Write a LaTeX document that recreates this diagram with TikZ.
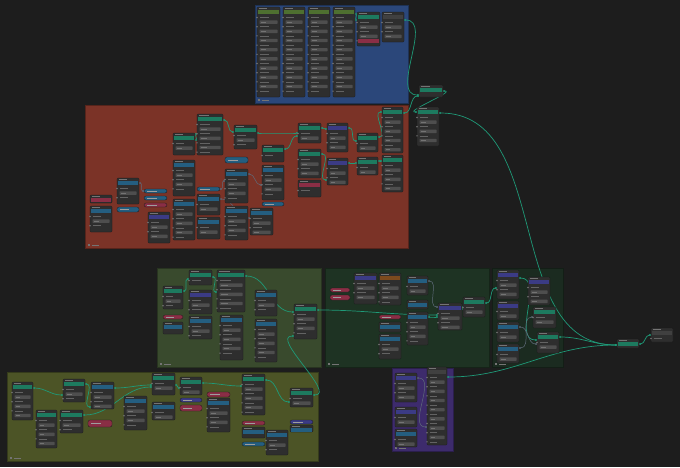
\documentclass[tikz,border=0pt]{standalone}
\usepackage{tikz}
\usetikzlibrary{arrows.meta}

\definecolor{bgcol}{HTML}{1D1D1D}
\definecolor{nodecol}{HTML}{2E2E2E}
\definecolor{fieldcol}{HTML}{4E4E4E}
\definecolor{stubcol}{HTML}{747474}
\definecolor{hteal}{HTML}{1D7A5F}
\definecolor{hblue}{HTML}{245E80}
\definecolor{hpurple}{HTML}{3B3B85}
\definecolor{hred}{HTML}{8A2E45}
\definecolor{horange}{HTML}{7C4A1E}
\definecolor{hlime}{HTML}{4E7030}
\definecolor{hgray}{HTML}{404040}
\definecolor{linkteal}{HTML}{1F9A78}
\definecolor{linkgray}{HTML}{5F6B7A}
\definecolor{fblue}{HTML}{2B477A}
\definecolor{fred}{HTML}{7B3327}
\definecolor{fgreen}{HTML}{394A2D}
\definecolor{fdkgreen}{HTML}{1E3323}
\definecolor{fdkgreenb}{HTML}{1B2B20}
\definecolor{folive}{HTML}{4C5426}
\definecolor{fpurple}{HTML}{3D2B6C}

\pgfdeclarelayer{back}
\pgfdeclarelayer{wires}
\pgfsetlayers{back,wires,main}

\tikzset{
  nbox/.style={draw=black!90, fill=nodecol, rounded corners=1pt, anchor=north west,
    inner sep=0pt, outer sep=0pt, line width=0.3pt},
  pbox/.style={draw=black!90, rounded corners=2pt, anchor=north west,
    inner sep=0pt, outer sep=0pt, line width=0.3pt},
  link/.style={draw=linkteal, line width=0.7pt, {Circle[length=2pt]}-{Circle[length=2pt]}},
  wire/.style={draw=linkgray, line width=0.5pt, {Circle[length=1.8pt]}-{Circle[length=1.8pt]}}
}

% node with title, header bar and field rows
\newcommand{\nd}[6]{%
  \node[nbox, minimum width={(#4-#2)*1pt}, minimum height={(#5-#3)*1pt}] (#1) at (#2,#3) {};
  \fill[stubcol] (#2+2,#3+1.1) rectangle ({#2+0.45*(#4-#2)},#3+1.9);
  \fill[#6] (#2+0.6,#3+3) rectangle (#4-0.6,#3+6.6);
  \foreach \k in {0,...,30}{%
    \pgfmathsetmacro\yy{#3+10.5+4.6*\k}%
    \pgfmathtruncatemacro\rowok{(\yy+2.6<#5)?1:0}%
    \ifnum\rowok=1
      \ifodd\k
        \fill[fieldcol, rounded corners=0.5pt] (#2+2.5,\yy-1.7) rectangle (#4-2.5,\yy+1.7);
        \fill[stubcol] (#2+4,\yy-0.3) rectangle ({#2+0.4*(#4-#2)},\yy+0.3);
      \else
        \fill[stubcol] (#2,\yy) circle (0.8pt);
        \fill[stubcol!85!black] (#2+2.5,\yy-0.35) rectangle ({#2+0.5*(#4-#2)},\yy+0.35);
      \fi
    \fi
  }%
}
% collapsed node
\newcommand{\pl}[6]{%
  \node[pbox, fill=#6, minimum width={(#4-#2)*1pt}, minimum height={(#5-#3)*1pt}] (#1) at (#2,#3) {};
  \fill[stubcol!70!white] (#2+3,{(#3+#5)/2-0.35}) rectangle ({#2+0.55*(#4-#2)},{(#3+#5)/2+0.35});
}
% frame
\newcommand{\fr}[5]{%
  \filldraw[fill=#5, draw=#5!70!black, line width=0.3pt] (#1,#2) rectangle (#3,#4);
  \fill[stubcol] (#1+3,#4-4) rectangle (#1+5,#4-2);
  \fill[stubcol] (#1+6.5,#4-3.4) rectangle (#1+14,#4-2.6);
}
\newcommand{\lk}[5]{\draw[#1] ([yshift=-#3pt]#2.north east) to[out=0,in=180] ([yshift=-#5pt]#4.north west);}

\begin{document}
\begin{tikzpicture}[x=1pt, y=-1pt]
\begin{pgfonlayer}{back}
  \fill[bgcol] (0,0) rectangle (680,467);
  \useasboundingbox (0,0) rectangle (680,467);
  \fr{255}{5}{408}{103}{fblue}
  \fr{85}{105}{408}{248}{fred}
  \fr{157}{268}{321}{367}{fgreen}
  \fr{325}{268}{489}{367}{fdkgreen}
  \fr{492}{268}{563}{367}{fdkgreenb}
  \fr{7}{372}{318}{461}{folive}
  \fr{392}{368}{453}{451}{fpurple}
\end{pgfonlayer}

\nd{bl1}{257}{7}{280}{97}{hlime}
\nd{bl2}{283}{7}{305}{97}{hlime}
\nd{bl3}{308}{7}{330}{97}{hlime}
\nd{bl4}{333}{7}{355}{97}{hlime}
\nd{bl5}{357}{12}{380}{46}{hteal}
\fill[hred] (357.6,39) rectangle (379.4,42.5);
\nd{bl6}{382}{12}{404}{42}{hgray}

\nd{rs1}{419}{85}{443}{97}{hteal}
\nd{rs2}{417}{107}{439}{146}{hteal}
\nd{go}{617}{339}{639}{348}{hteal}
\nd{vw}{651}{328}{673}{342}{hgray}

\nd{r1}{90}{195}{112}{203}{hred}
\nd{r2}{90}{206}{112}{232}{hblue}
\nd{r3}{117}{178}{139}{204}{hblue}
\pl{r4}{117}{207}{139}{212}{hblue}
\pl{r5}{144}{189}{167}{193}{hblue}
\pl{r6}{144}{196}{167}{200}{hblue}
\pl{r7}{144}{203}{167}{207}{hred}
\nd{r8}{148}{212}{170}{243}{hpurple}
\nd{r9}{173}{133}{195}{155}{hteal}
\nd{r10}{173}{160}{195}{196}{hblue}
\nd{r11}{173}{199}{195}{240}{hblue}
\nd{r12}{197}{114}{223}{155}{hteal}
\pl{r13}{197}{187}{220}{191}{hblue}
\nd{r14}{197}{194}{220}{215}{hblue}
\nd{r15}{197}{217}{220}{239}{hblue}
\pl{r16}{225}{157}{248}{163}{hblue}
\nd{r17}{225}{169}{248}{203}{hblue}
\nd{r18}{225}{206}{248}{240}{hblue}
\nd{r19}{234}{125}{257}{149}{hteal}
\nd{r20}{250}{208}{273}{235}{hblue}
\nd{r21}{262}{145}{284}{162}{hteal}
\nd{r22}{262}{165}{284}{200}{hblue}
\pl{r23}{262}{202}{284}{206}{hblue}
\nd{r24}{298}{123}{321}{143}{hteal}
\nd{r25}{298}{149}{321}{178}{hteal}
\nd{r26}{298}{180}{321}{197}{hred}
\nd{r27}{327}{123}{348}{152}{hpurple}
\nd{r28}{327}{158}{348}{185}{hpurple}
\nd{r29}{357}{133}{378}{152}{hteal}
\nd{r30}{357}{157}{378}{175}{hteal}
\nd{r31}{382}{107}{403}{153}{hteal}
\nd{r32}{382}{155}{403}{192}{hteal}

\nd{ga}{163}{286}{183}{309}{hteal}
\pl{gb}{163}{315}{183}{319}{hred}
\nd{gc}{163}{322}{183}{334}{hblue}
\nd{gd}{189}{270}{212}{285}{hteal}
\nd{ge}{189}{290}{212}{314}{hpurple}
\nd{gf}{189}{316}{212}{339}{hblue}
\nd{gg}{217}{270}{245}{312}{hteal}
\nd{gh}{220}{315}{243}{360}{hblue}
\nd{gi}{255}{290}{277}{316}{hblue}
\nd{gj}{255}{319}{277}{362}{hblue}
\nd{gk}{294}{304}{317}{339}{hteal}

\pl{dk1}{330}{288}{350}{292}{hred}
\pl{dk2}{330}{295}{350}{300}{hred}
\nd{dk3}{354}{273}{377}{304}{hpurple}
\nd{dk4}{379}{273}{401}{305}{horange}
\nd{dk5}{407}{276}{428}{295}{hblue}
\nd{dk6}{407}{300}{428}{309}{hblue}
\nd{dk7}{407}{312}{428}{345}{hblue}
\pl{dk8}{379}{315}{401}{319}{hred}
\nd{dk9}{379}{322}{401}{332}{hblue}
\nd{dk10}{379}{334}{401}{359}{hblue}
\nd{dk11}{438}{303}{462}{330}{hpurple}
\nd{dk12}{463}{297}{485}{317}{hteal}

\nd{x1}{497}{270}{519}{299}{hpurple}
\nd{x2}{497}{301}{519}{320}{hpurple}
\nd{x3}{497}{322}{519}{342}{hblue}
\nd{x4}{497}{344}{519}{363}{hblue}
\nd{x5}{528}{277}{550}{305}{hpurple}
\nd{x6}{533}{307}{556}{328}{hteal}
\nd{x7}{537}{332}{559}{353}{hteal}

\nd{oa}{12}{382}{33}{420}{hteal}
\nd{ob}{36}{410}{57}{448}{hteal}
\nd{oc}{60}{410}{83}{433}{hteal}
\nd{od}{63}{379}{85}{402}{hteal}
\nd{oe}{91}{382}{114}{409}{hblue}
\pl{of}{88}{420}{112}{427}{hred}
\nd{og}{124}{396}{147}{430}{hblue}
\nd{oh}{152}{373}{175}{395}{hteal}
\nd{oi}{152}{402}{175}{420}{hblue}
\nd{oj}{180}{377}{202}{395}{hteal}
\pl{ok}{180}{398}{202}{402}{hpurple}
\pl{ol}{180}{405}{202}{411}{hred}
\pl{om}{207}{392}{230}{397}{hred}
\nd{on}{207}{398}{230}{432}{hblue}
\nd{oo}{242}{374}{265}{415}{hteal}
\pl{op}{242}{421}{265}{425}{hred}
\nd{oq}{242}{427}{265}{438}{hblue}
\pl{or}{242}{442}{265}{446}{hblue}
\nd{os}{266}{430}{288}{455}{hblue}
\nd{ot}{290}{388}{313}{407}{hteal}
\pl{ou}{290}{420}{313}{424}{hpurple}
\nd{ov}{290}{425}{313}{432}{hblue}

\nd{pa}{395}{373}{417}{402}{hpurple}
\nd{pb}{395}{407}{417}{427}{hpurple}
\nd{pc}{395}{429}{417}{447}{hblue}
\nd{pd}{427}{367}{447}{445}{hgray}

\begin{pgfonlayer}{wires}
  \lk{link}{bl4}{7}{bl5}{8}
  \lk{link}{bl6}{8}{rs1}{10}
  \lk{link}{r31}{6}{rs1}{11}
  \lk{link}{rs1}{6}{rs2}{5}
  \lk{link}{rs2}{6}{go}{6}
  \lk{link}{r9}{7}{r12}{20}
  \lk{link}{r12}{6}{r19}{7}
  \lk{link}{r19}{8}{r24}{10}
  \lk{link}{r21}{4}{r24}{13}
  \lk{link}{r24}{5}{r27}{6}
  \lk{link}{r25}{5}{r28}{22}
  \lk{link}{r27}{5}{r29}{8}
  \lk{link}{r28}{5}{r30}{6}
  \lk{link}{r29}{4}{r31}{5}
  \lk{link}{r30}{4}{r32}{6}
  \lk{wire}{r3}{5}{r5}{2}
  \lk{wire}{r13}{2}{r17}{12}
  \lk{wire}{r17}{5}{r22}{20}
  \lk{wire}{r14}{5}{r20}{10}
  \lk{link}{ga}{5}{gd}{9}
  \lk{link}{gd}{7}{gg}{22}
  \lk{link}{gg}{6}{gk}{8}
  \lk{link}{gk}{6}{dk11}{12}
  \lk{link}{ot}{7}{gk}{32}
  \lk{wire}{dk5}{5}{dk11}{4}
  \lk{link}{dk7}{5}{dk11}{14}
  \lk{link}{dk11}{6}{dk12}{10}
  \lk{link}{dk12}{6}{x1}{18}
  \lk{link}{x1}{8}{x7}{8}
  \lk{wire}{x3}{5}{x7}{12}
  \lk{wire}{x4}{4}{x6}{10}
  \lk{link}{x7}{5}{go}{6}
  \lk{link}{pd}{10}{go}{6}
  \lk{link}{go}{5}{vw}{7}
  \lk{link}{oa}{6}{od}{16}
  \lk{link}{od}{5}{oe}{25}
  \lk{link}{oc}{5}{oh}{14}
  \lk{link}{oe}{6}{oh}{12}
  \lk{link}{oh}{12}{oj}{11}
  \lk{link}{oj}{6}{oo}{12}
  \lk{link}{oo}{6}{ot}{14}
  \lk{wire}{pa}{5}{pd}{60}
\end{pgfonlayer}
\end{tikzpicture}
\end{document}
